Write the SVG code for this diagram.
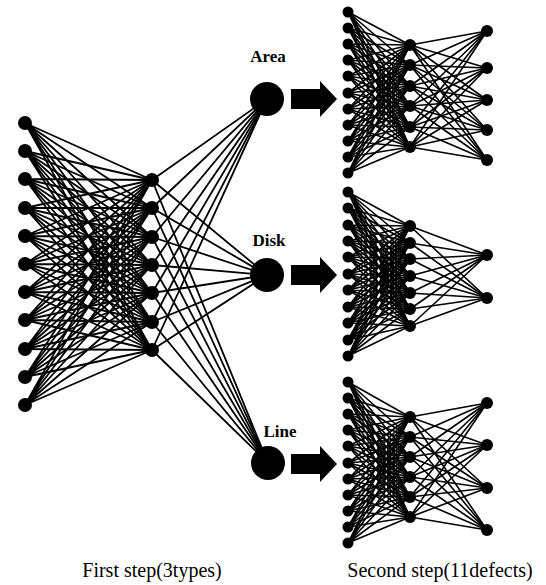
<svg xmlns="http://www.w3.org/2000/svg" xmlns:xlink="http://www.w3.org/1999/xlink" width="546" height="585" viewBox="0 0 546 585">
  <style>
    .bg { fill: #fff; }
    .wa { fill: none; stroke: #000; stroke-width: 1.8; stroke-linejoin: round; }
    .wb { fill: none; stroke: #000; stroke-width: 1.6; stroke-linejoin: round; }
    circle { fill: #000; }
    .lbl { font-family: "Liberation Serif", "Times New Roman", serif; font-size: 17px; font-weight: bold; text-anchor: middle; fill: #000; }
    .cap { font-family: "Liberation Serif", "Times New Roman", serif; font-size: 20px; text-anchor: middle; fill: #000; }
    .arrow { fill: #000; }
  </style>
  <defs>
    <!-- block arrow, tip at the origin -->
    <path id="blockArrow" class="arrow" d="M-46 -10H-17V-18L0 0L-17 18V10H-46Z"/>
  </defs>
  <rect class="bg" width="546" height="585"/>

  <!-- connections -->
  <g id="connectors">
    <!-- first step: input to hidden -->
    <g class="wa">
      <path d="M152 180L25 123L152 208L25 123L152 237L25 123L152 265L25 123L152 293L25 123L152 322L25 123L152 350"/>
      <path d="M152 180L25 151L152 208L25 151L152 237L25 151L152 265L25 151L152 293L25 151L152 322L25 151L152 350"/>
      <path d="M152 180L25 179L152 208L25 179L152 237L25 179L152 265L25 179L152 293L25 179L152 322L25 179L152 350"/>
      <path d="M152 180L25 208L152 208L25 208L152 237L25 208L152 265L25 208L152 293L25 208L152 322L25 208L152 350"/>
      <path d="M152 180L25 236L152 208L25 236L152 237L25 236L152 265L25 236L152 293L25 236L152 322L25 236L152 350"/>
      <path d="M152 180L25 264L152 208L25 264L152 237L25 264L152 265L25 264L152 293L25 264L152 322L25 264L152 350"/>
      <path d="M152 180L25 292L152 208L25 292L152 237L25 292L152 265L25 292L152 293L25 292L152 322L25 292L152 350"/>
      <path d="M152 180L25 320L152 208L25 320L152 237L25 320L152 265L25 320L152 293L25 320L152 322L25 320L152 350"/>
      <path d="M152 180L25 349L152 208L25 349L152 237L25 349L152 265L25 349L152 293L25 349L152 322L25 349L152 350"/>
      <path d="M152 180L25 377L152 208L25 377L152 237L25 377L152 265L25 377L152 293L25 377L152 322L25 377L152 350"/>
      <path d="M152 180L25 405L152 208L25 405L152 237L25 405L152 265L25 405L152 293L25 405L152 322L25 405L152 350"/>
      <!-- first step: hidden to type outputs -->
      <path d="M267 99L152 180L267 275L152 180L268 463"/>
      <path d="M267 99L152 208L267 275L152 208L268 463"/>
      <path d="M267 99L152 237L267 275L152 237L268 463"/>
      <path d="M267 99L152 265L267 275L152 265L268 463"/>
      <path d="M267 99L152 293L267 275L152 293L268 463"/>
      <path d="M267 99L152 322L267 275L152 322L268 463"/>
      <path d="M267 99L152 350L267 275L152 350L268 463"/>
    </g>

    <!-- second step, area net -->
    <g class="wb">
      <path d="M410 45L348 12L410 65L348 12L410 86L348 12L410 106L348 12L410 127L348 12L410 147"/>
      <path d="M410 45L348 28L410 65L348 28L410 86L348 28L410 106L348 28L410 127L348 28L410 147"/>
      <path d="M410 45L348 44L410 65L348 44L410 86L348 44L410 106L348 44L410 127L348 44L410 147"/>
      <path d="M410 45L348 60L410 65L348 60L410 86L348 60L410 106L348 60L410 127L348 60L410 147"/>
      <path d="M410 45L348 76L410 65L348 76L410 86L348 76L410 106L348 76L410 127L348 76L410 147"/>
      <path d="M410 45L348 93L410 65L348 93L410 86L348 93L410 106L348 93L410 127L348 93L410 147"/>
      <path d="M410 45L348 109L410 65L348 109L410 86L348 109L410 106L348 109L410 127L348 109L410 147"/>
      <path d="M410 45L348 125L410 65L348 125L410 86L348 125L410 106L348 125L410 127L348 125L410 147"/>
      <path d="M410 45L348 141L410 65L348 141L410 86L348 141L410 106L348 141L410 127L348 141L410 147"/>
      <path d="M410 45L348 157L410 65L348 157L410 86L348 157L410 106L348 157L410 127L348 157L410 147"/>
      <path d="M410 45L348 173L410 65L348 173L410 86L348 173L410 106L348 173L410 127L348 173L410 147"/>
      <path d="M487 31L410 45L487 68L410 45L487 100L410 45L487 130L410 45L487 160"/>
      <path d="M487 31L410 65L487 68L410 65L487 100L410 65L487 130L410 65L487 160"/>
      <path d="M487 31L410 86L487 68L410 86L487 100L410 86L487 130L410 86L487 160"/>
      <path d="M487 31L410 106L487 68L410 106L487 100L410 106L487 130L410 106L487 160"/>
      <path d="M487 31L410 127L487 68L410 127L487 100L410 127L487 130L410 127L487 160"/>
      <path d="M487 31L410 147L487 68L410 147L487 100L410 147L487 130L410 147L487 160"/>
    </g>

    <!-- second step, disk net -->
    <g class="wb">
      <path d="M410 226L348 192L410 243L348 192L410 259L348 192L410 276L348 192L410 293L348 192L410 309L348 192L410 326"/>
      <path d="M410 226L348 208L410 243L348 208L410 259L348 208L410 276L348 208L410 293L348 208L410 309L348 208L410 326"/>
      <path d="M410 226L348 225L410 243L348 225L410 259L348 225L410 276L348 225L410 293L348 225L410 309L348 225L410 326"/>
      <path d="M410 226L348 241L410 243L348 241L410 259L348 241L410 276L348 241L410 293L348 241L410 309L348 241L410 326"/>
      <path d="M410 226L348 257L410 243L348 257L410 259L348 257L410 276L348 257L410 293L348 257L410 309L348 257L410 326"/>
      <path d="M410 226L348 274L410 243L348 274L410 259L348 274L410 276L348 274L410 293L348 274L410 309L348 274L410 326"/>
      <path d="M410 226L348 290L410 243L348 290L410 259L348 290L410 276L348 290L410 293L348 290L410 309L348 290L410 326"/>
      <path d="M410 226L348 307L410 243L348 307L410 259L348 307L410 276L348 307L410 293L348 307L410 309L348 307L410 326"/>
      <path d="M410 226L348 323L410 243L348 323L410 259L348 323L410 276L348 323L410 293L348 323L410 309L348 323L410 326"/>
      <path d="M410 226L348 340L410 243L348 340L410 259L348 340L410 276L348 340L410 293L348 340L410 309L348 340L410 326"/>
      <path d="M410 226L348 356L410 243L348 356L410 259L348 356L410 276L348 356L410 293L348 356L410 309L348 356L410 326"/>
      <path d="M487 255L410 226L487 298"/>
      <path d="M487 255L410 243L487 298"/>
      <path d="M487 255L410 259L487 298"/>
      <path d="M487 255L410 276L487 298"/>
      <path d="M487 255L410 293L487 298"/>
      <path d="M487 255L410 309L487 298"/>
      <path d="M487 255L410 326L487 298"/>
    </g>

    <!-- second step, line net -->
    <g class="wb">
      <path d="M410 417L348 382L410 437L348 382L410 457L348 382L410 477L348 382L410 497L348 382L410 517"/>
      <path d="M410 417L348 398L410 437L348 398L410 457L348 398L410 477L348 398L410 497L348 398L410 517"/>
      <path d="M410 417L348 414L410 437L348 414L410 457L348 414L410 477L348 414L410 497L348 414L410 517"/>
      <path d="M410 417L348 430L410 437L348 430L410 457L348 430L410 477L348 430L410 497L348 430L410 517"/>
      <path d="M410 417L348 446L410 437L348 446L410 457L348 446L410 477L348 446L410 497L348 446L410 517"/>
      <path d="M410 417L348 463L410 437L348 463L410 457L348 463L410 477L348 463L410 497L348 463L410 517"/>
      <path d="M410 417L348 479L410 437L348 479L410 457L348 479L410 477L348 479L410 497L348 479L410 517"/>
      <path d="M410 417L348 495L410 437L348 495L410 457L348 495L410 477L348 495L410 497L348 495L410 517"/>
      <path d="M410 417L348 511L410 437L348 511L410 457L348 511L410 477L348 511L410 497L348 511L410 517"/>
      <path d="M410 417L348 527L410 437L348 527L410 457L348 527L410 477L348 527L410 497L348 527L410 517"/>
      <path d="M410 417L348 543L410 437L348 543L410 457L348 543L410 477L348 543L410 497L348 543L410 517"/>
      <path d="M487 403L410 417L487 445L410 417L487 488L410 417L487 530"/>
      <path d="M487 403L410 437L487 445L410 437L487 488L410 437L487 530"/>
      <path d="M487 403L410 457L487 445L410 457L487 488L410 457L487 530"/>
      <path d="M487 403L410 477L487 445L410 477L487 488L410 477L487 530"/>
      <path d="M487 403L410 497L487 445L410 497L487 488L410 497L487 530"/>
      <path d="M487 403L410 517L487 445L410 517L487 488L410 517L487 530"/>
    </g>

    <!-- hand-off arrows -->
    <use id="arrow-area" xlink:href="#blockArrow" href="#blockArrow" x="337" y="99"/>
    <use id="arrow-disk" xlink:href="#blockArrow" href="#blockArrow" x="337" y="275"/>
    <use id="arrow-line" xlink:href="#blockArrow" href="#blockArrow" x="337" y="464"/>
  </g>

  <!-- first step: input layer -->
  <g id="s1-in1"><circle cx="25" cy="123" r="7"/></g>
  <g id="s1-in2"><circle cx="25" cy="151" r="7"/></g>
  <g id="s1-in3"><circle cx="25" cy="179" r="7"/></g>
  <g id="s1-in4"><circle cx="25" cy="208" r="7"/></g>
  <g id="s1-in5"><circle cx="25" cy="236" r="7"/></g>
  <g id="s1-in6"><circle cx="25" cy="264" r="7"/></g>
  <g id="s1-in7"><circle cx="25" cy="292" r="7"/></g>
  <g id="s1-in8"><circle cx="25" cy="320" r="7"/></g>
  <g id="s1-in9"><circle cx="25" cy="349" r="7"/></g>
  <g id="s1-in10"><circle cx="25" cy="377" r="7"/></g>
  <g id="s1-in11"><circle cx="25" cy="405" r="7"/></g>
  <!-- first step: hidden layer -->
  <g id="s1-h1"><circle cx="152" cy="180" r="7"/></g>
  <g id="s1-h2"><circle cx="152" cy="208" r="7"/></g>
  <g id="s1-h3"><circle cx="152" cy="237" r="7"/></g>
  <g id="s1-h4"><circle cx="152" cy="265" r="7"/></g>
  <g id="s1-h5"><circle cx="152" cy="293" r="7"/></g>
  <g id="s1-h6"><circle cx="152" cy="322" r="7"/></g>
  <g id="s1-h7"><circle cx="152" cy="350" r="7"/></g>
  <!-- first step: type outputs -->
  <g id="out-area"><circle cx="267" cy="99" r="17"/><text class="lbl" x="268" y="62">Area</text></g>
  <g id="out-disk"><circle cx="267" cy="275" r="17"/><text class="lbl" x="269" y="246">Disk</text></g>
  <g id="out-line"><circle cx="268" cy="463" r="17"/><text class="lbl" x="280" y="437">Line</text></g>

  <!-- second step, area net -->
  <g id="a-in1"><circle cx="348" cy="12" r="5.5"/></g>
  <g id="a-in2"><circle cx="348" cy="28" r="5.5"/></g>
  <g id="a-in3"><circle cx="348" cy="44" r="5.5"/></g>
  <g id="a-in4"><circle cx="348" cy="60" r="5.5"/></g>
  <g id="a-in5"><circle cx="348" cy="76" r="5.5"/></g>
  <g id="a-in6"><circle cx="348" cy="93" r="5.5"/></g>
  <g id="a-in7"><circle cx="348" cy="109" r="5.5"/></g>
  <g id="a-in8"><circle cx="348" cy="125" r="5.5"/></g>
  <g id="a-in9"><circle cx="348" cy="141" r="5.5"/></g>
  <g id="a-in10"><circle cx="348" cy="157" r="5.5"/></g>
  <g id="a-in11"><circle cx="348" cy="173" r="5.5"/></g>
  <g id="a-h1"><circle cx="410" cy="45" r="6"/></g>
  <g id="a-h2"><circle cx="410" cy="65" r="6"/></g>
  <g id="a-h3"><circle cx="410" cy="86" r="6"/></g>
  <g id="a-h4"><circle cx="410" cy="106" r="6"/></g>
  <g id="a-h5"><circle cx="410" cy="127" r="6"/></g>
  <g id="a-h6"><circle cx="410" cy="147" r="6"/></g>
  <g id="a-out1"><circle cx="487" cy="31" r="6"/></g>
  <g id="a-out2"><circle cx="487" cy="68" r="6"/></g>
  <g id="a-out3"><circle cx="487" cy="100" r="6"/></g>
  <g id="a-out4"><circle cx="487" cy="130" r="6"/></g>
  <g id="a-out5"><circle cx="487" cy="160" r="6"/></g>

  <!-- second step, disk net -->
  <g id="d-in1"><circle cx="348" cy="192" r="5.5"/></g>
  <g id="d-in2"><circle cx="348" cy="208" r="5.5"/></g>
  <g id="d-in3"><circle cx="348" cy="225" r="5.5"/></g>
  <g id="d-in4"><circle cx="348" cy="241" r="5.5"/></g>
  <g id="d-in5"><circle cx="348" cy="257" r="5.5"/></g>
  <g id="d-in6"><circle cx="348" cy="274" r="5.5"/></g>
  <g id="d-in7"><circle cx="348" cy="290" r="5.5"/></g>
  <g id="d-in8"><circle cx="348" cy="307" r="5.5"/></g>
  <g id="d-in9"><circle cx="348" cy="323" r="5.5"/></g>
  <g id="d-in10"><circle cx="348" cy="340" r="5.5"/></g>
  <g id="d-in11"><circle cx="348" cy="356" r="5.5"/></g>
  <g id="d-h1"><circle cx="410" cy="226" r="6"/></g>
  <g id="d-h2"><circle cx="410" cy="243" r="6"/></g>
  <g id="d-h3"><circle cx="410" cy="259" r="6"/></g>
  <g id="d-h4"><circle cx="410" cy="276" r="6"/></g>
  <g id="d-h5"><circle cx="410" cy="293" r="6"/></g>
  <g id="d-h6"><circle cx="410" cy="309" r="6"/></g>
  <g id="d-h7"><circle cx="410" cy="326" r="6"/></g>
  <g id="d-out1"><circle cx="487" cy="255" r="6"/></g>
  <g id="d-out2"><circle cx="487" cy="298" r="6"/></g>

  <!-- second step, line net -->
  <g id="l-in1"><circle cx="348" cy="382" r="5.5"/></g>
  <g id="l-in2"><circle cx="348" cy="398" r="5.5"/></g>
  <g id="l-in3"><circle cx="348" cy="414" r="5.5"/></g>
  <g id="l-in4"><circle cx="348" cy="430" r="5.5"/></g>
  <g id="l-in5"><circle cx="348" cy="446" r="5.5"/></g>
  <g id="l-in6"><circle cx="348" cy="463" r="5.5"/></g>
  <g id="l-in7"><circle cx="348" cy="479" r="5.5"/></g>
  <g id="l-in8"><circle cx="348" cy="495" r="5.5"/></g>
  <g id="l-in9"><circle cx="348" cy="511" r="5.5"/></g>
  <g id="l-in10"><circle cx="348" cy="527" r="5.5"/></g>
  <g id="l-in11"><circle cx="348" cy="543" r="5.5"/></g>
  <g id="l-h1"><circle cx="410" cy="417" r="6"/></g>
  <g id="l-h2"><circle cx="410" cy="437" r="6"/></g>
  <g id="l-h3"><circle cx="410" cy="457" r="6"/></g>
  <g id="l-h4"><circle cx="410" cy="477" r="6"/></g>
  <g id="l-h5"><circle cx="410" cy="497" r="6"/></g>
  <g id="l-h6"><circle cx="410" cy="517" r="6"/></g>
  <g id="l-out1"><circle cx="487" cy="403" r="6"/></g>
  <g id="l-out2"><circle cx="487" cy="445" r="6"/></g>
  <g id="l-out3"><circle cx="487" cy="488" r="6"/></g>
  <g id="l-out4"><circle cx="487" cy="530" r="6"/></g>

  <!-- captions -->
  <text class="cap" x="152" y="577">First step(3types)</text>
  <text class="cap" x="440" y="577">Second step(11defects)</text>
</svg>
